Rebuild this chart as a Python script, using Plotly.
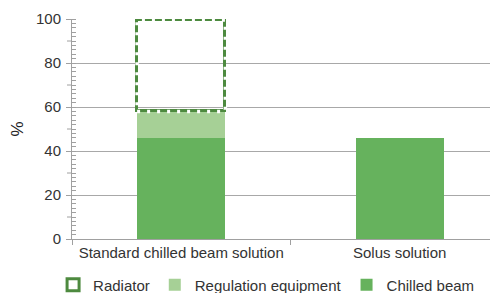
import plotly.graph_objects as go

categories = ["Standard chilled beam solution", "Solus solution"]
chilled_beam = [46, 46]
regulation_equipment = [12, 0]
radiator = [41.5, 0]
y_ticks = [0, 20, 40, 60, 80, 100]
y_mid_ticks = [10, 30, 50, 70, 90]

C_CHILLED = "#66b25d"
C_REG = "#a6d096"
C_RAD = "#4d8a3f"
BAR_W = 0.404
FONT = "Liberation Sans, Arial, sans-serif"

fig = go.Figure()
fig.add_trace(go.Bar(name="Chilled beam", x=categories, y=chilled_beam,
                     marker=dict(color=C_CHILLED, line=dict(width=0)), width=BAR_W))
fig.add_trace(go.Bar(name="Regulation equipment", x=categories, y=regulation_equipment,
                     marker=dict(color=C_REG, line=dict(width=0)), width=BAR_W))
fig.add_trace(go.Bar(name="Radiator", x=categories, y=radiator,
                     marker=dict(color="rgba(255,255,255,0)",
                                 line=dict(color=C_RAD, width=[3 if r > 0 else 0 for r in radiator])),
                     width=BAR_W))

shapes = []
# dashed look for the radiator outline: white dashes drawn over the solid border
for i, r in enumerate(radiator):
    if r > 0:
        base = chilled_beam[i] + regulation_equipment[i]
        shapes.append(dict(type="rect", xref="x", yref="y",
                           x0=i - BAR_W / 2, x1=i + BAR_W / 2, y0=base, y1=base + r,
                           line=dict(color="white", width=3.5, dash="3px,7px"),
                           fillcolor="rgba(0,0,0,0)", layer="above"))
for v in y_mid_ticks:
    shapes.append(dict(type="line", xref="paper", yref="y", xsizemode="pixel", xanchor=0,
                       x0=-5, x1=0, y0=v, y1=v, line=dict(color="#a0a0a0", width=1)))

fig.update_layout(
    width=490, height=285,
    margin=dict(l=64, r=0, t=11, b=54),
    barmode="stack",
    plot_bgcolor="white", paper_bgcolor="white",
    font=dict(family=FONT, size=15, color="#333333"),
    showlegend=True,
    legend=dict(orientation="h", x=0.092, y=0.086, xref="container", yref="container",
                xanchor="left", yanchor="top", tracegroupgap=0,
                traceorder="reversed", font=dict(size=15, color="#333333"),
                bgcolor="rgba(0,0,0,0)"),
    shapes=shapes,
    bargap=0,
)
fig.update_xaxes(range=[-0.5, 1.45], tickson="boundaries", ticks="outside", ticklen=5,
                 tickcolor="#a0a0a0", showline=True, linecolor="#a0a0a0", linewidth=1,
                 showgrid=False, automargin=False, tickfont=dict(size=15, color="#333333"))
fig.update_yaxes(range=[0, 100], tickvals=y_ticks, ticks="outside", ticklen=5,
                 tickcolor="#a0a0a0", showline=True, linecolor="#a0a0a0", linewidth=1,
                 showgrid=True, gridcolor="#a8a8a8", gridwidth=1, zeroline=False,
                 automargin=False, ticklabelstandoff=2,
                 tickfont=dict(size=15, color="#333333"),
                 title=dict(text="%", font=dict(size=17, color="#222222"), standoff=8),
                 minor=dict(dtick=2, ticks="inside", ticklen=4, tickcolor="#a0a0a0",
                            showgrid=False))

fig.write_html("out.html")
